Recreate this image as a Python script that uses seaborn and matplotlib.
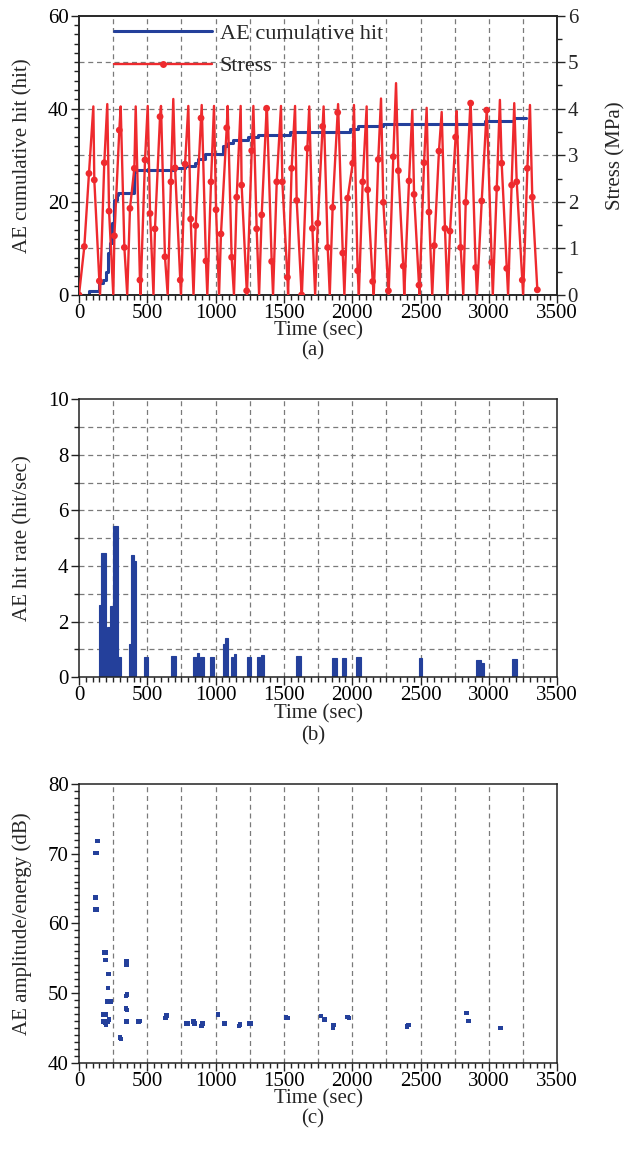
import numpy as np
import pandas as pd
import matplotlib
matplotlib.use("Agg")
import matplotlib.pyplot as plt
import seaborn as sns
from matplotlib.ticker import MultipleLocator, FixedLocator
from matplotlib.lines import Line2D

# ---------------- data ----------------
# Panel (a): stress (MPa) -- turning points of the loading cycles
peak_t = [105, 207, 305, 415, 503, 600, 690, 800, 898, 988, 1088, 1183, 1276, 1375, 1478, 1581,
          1685, 1790, 1896, 2012, 2105, 2210, 2320, 2439, 2544, 2654, 2764, 2864, 2984, 3080, 3185, 3300]
peak_v = [4.05, 4.10, 4.05, 4.05, 4.06, 4.06, 4.21, 4.06, 4.08, 4.06, 4.06, 4.06, 4.06, 4.03, 4.06, 4.06,
          4.05, 4.05, 4.10, 4.08, 4.05, 4.22, 4.55, 3.97, 4.02, 3.93, 3.95, 4.12, 4.00, 4.19, 4.12, 4.08]
trough_t = [154, 251, 353, 450, 545, 649, 746, 838, 939, 1025, 1134, 1229, 1318, 1420, 1530, 1631,
            1728, 1835, 1942, 2048, 2157, 2266, 2380, 2491, 2585, 2696, 2812, 2912, 3028, 3140, 3250]
trough_v = [0.0] * 31
# Panel (a): stress sample points shown with markers
mark_t = [0, 39, 73, 112, 149, 185, 220, 259, 295, 332, 373, 405, 446, 483, 520, 556, 593, 629, 673, 703,
          741, 776, 817, 854, 893, 929, 966, 1003, 1039, 1081, 1117, 1154, 1190, 1227, 1264, 1300, 1337,
          1373, 1410, 1447, 1488, 1525, 1556, 1593, 1629, 1671, 1708, 1747, 1783, 1820, 1856, 1893, 1930,
          1966, 2003, 2039, 2076, 2112, 2149, 2190, 2227, 2264, 2300, 2337, 2373, 2415, 2452, 2488, 2525,
          2561, 2600, 2634, 2678, 2715, 2756, 2793, 2830, 2866, 2903, 2947, 2983, 3020, 3057, 3093, 3130,
          3166, 3203, 3244, 3281, 3317, 3354]
mark_v = [0.0, 1.04, 2.61, 2.47, 0.30, 2.84, 1.80, 1.27, 3.54, 1.02, 1.86, 2.72, 0.32, 2.90, 1.75, 1.42,
          3.83, 0.82, 2.43, 2.73, 0.32, 2.81, 1.63, 1.49, 3.80, 0.73, 2.43, 1.83, 1.31, 3.59, 0.81, 2.10,
          2.36, 0.09, 3.10, 1.42, 1.72, 4.01, 0.72, 2.43, 2.43, 0.38, 2.72, 2.03, 0.0, 3.15, 1.43, 1.54,
          3.62, 1.02, 1.88, 3.92, 0.90, 2.08, 2.83, 0.52, 2.43, 2.26, 0.29, 2.91, 1.99, 0.09, 2.97, 2.67,
          0.62, 2.45, 2.16, 0.21, 2.84, 1.78, 1.06, 3.09, 1.43, 1.37, 3.39, 1.02, 1.99, 4.12, 0.59, 2.02,
          3.97, 0.70, 2.29, 2.83, 0.57, 2.36, 2.43, 0.32, 2.72, 2.10, 0.11]

# Panel (a): AE cumulative hit
hit_t = [0, 75, 150, 178, 195, 215, 227, 244, 259, 276, 288, 402, 417, 702, 776, 849, 873, 922,
         1056, 1093, 1129, 1239, 1312, 1544, 1983, 2044, 2227, 2971, 3186, 3270]
hit_v = [0.0, 0.8, 2.5, 3.2, 5.0, 9.0, 11.1, 15.4, 20.4, 21.5, 21.8, 26.5, 26.9, 27.2, 27.7, 28.4, 29.3, 30.3,
         31.9, 32.6, 33.2, 33.9, 34.4, 34.9, 35.7, 36.2, 36.8, 37.4, 38.1, 38.1]

# Panel (b): AE hit rate (hit/sec) over time intervals
rate_start = [146, 158, 195, 207, 227, 246, 283, 368, 381, 405, 478, 676, 837, 861, 885, 959, 1056, 1068,
              1112, 1134, 1227, 1305, 1332, 1588, 1849, 1927, 2025, 2486, 2903, 2940, 3171]
rate_end = [158, 195, 207, 227, 246, 283, 307, 381, 405, 415, 507, 710, 861, 881, 917, 988, 1068, 1093,
            1129, 1149, 1256, 1325, 1354, 1622, 1890, 1956, 2060, 2512, 2940, 2964, 3203]
rate_val = [2.6, 4.45, 1.28, 1.82, 2.56, 5.44, 0.74, 1.2, 4.4, 4.18, 0.72, 0.77, 0.74, 0.86, 0.74, 0.72,
            1.2, 1.42, 0.74, 0.82, 0.72, 0.72, 0.80, 0.77, 0.68, 0.68, 0.74, 0.68, 0.62, 0.52, 0.66]

# Panel (c): AE amplitude/energy (dB)
amp_t = [118, 130, 134, 120, 126, 120, 128, 183, 193, 193, 217, 212, 208, 222, 232, 180, 195, 178, 190,
         198, 208, 218, 300, 306, 349, 349, 344, 352, 344, 350, 344, 352, 435, 447, 632, 640, 782, 795,
         838, 845, 895, 905, 1015, 1061, 1068, 1172, 1180, 1245, 1256, 1515, 1525, 1772, 1796, 1858,
         1862, 1965, 1978, 2400, 2410, 2835, 2845, 2855, 3085]
amp_v = [70.1, 70.1, 71.8, 63.7, 63.7, 62.0, 62.0, 55.8, 55.8, 54.7, 52.7, 50.7, 48.8, 48.8, 48.8, 46.9,
         46.9, 45.9, 45.7, 45.5, 45.9, 46.2, 43.6, 43.4, 54.5, 54.0, 49.6, 49.8, 47.8, 47.6, 45.9, 45.9,
         45.9, 46.0, 46.4, 46.8, 45.6, 45.6, 45.9, 45.6, 45.3, 45.6, 46.9, 45.6, 45.6, 45.3, 45.5, 45.6,
         45.6, 46.5, 46.4, 46.7, 46.2, 45.0, 45.4, 46.6, 46.4, 45.2, 45.4, 47.1, 46.0, 46.0, 45.0]

x_ticks = [0, 500, 1000, 1500, 2000, 2500, 3000, 3500]

# ---------------- style ----------------
sns.set_style("ticks")
plt.rcParams['font.family'] = ['Liberation Serif', 'DejaVu Serif']
plt.rcParams['font.size'] = 15
plt.rcParams['axes.linewidth'] = 1.1
plt.rcParams['axes.edgecolor'] = '#222222'

FS = 15
BLUE = '#24409b'
RED = '#ee2a2e'
GRID = '#7a7a7a'
DASH = (0, (4, 3))

fig = plt.figure(figsize=(6.24, 11.58), dpi=100)


def style_x(ax):
    ax.set_xlim(0, 3500)
    ax.xaxis.set_major_locator(FixedLocator(x_ticks))
    ax.xaxis.set_minor_locator(MultipleLocator(50))
    ax.tick_params(axis='both', which='major', direction='out', length=5.5, width=1.0, pad=2,
                   labelsize=FS, colors='#222222', labelcolor='black')
    ax.tick_params(axis='x', which='major', pad=1)
    ax.tick_params(axis='both', which='minor', direction='out', length=3.5, width=1.0, colors='#222222')
    ax.set_xlabel('Time (sec)', fontsize=FS, labelpad=-1)
    for s in ax.spines.values():
        s.set_visible(True)


def vgrid(ax):
    for g in np.arange(250, 3500, 250):
        ax.axvline(g, color=GRID, lw=0.9, ls=DASH, zorder=0)


# ---------------- panel (a) ----------------
ax1 = fig.add_axes([0.1266, 0.7453, 0.7665, 0.2412])
ax2 = ax1.twinx()
vgrid(ax1)
for g in [10, 20, 30, 40, 50]:
    ax1.axhline(g, color=GRID, lw=0.9, ls=DASH, zorder=0)

sns.lineplot(x=hit_t, y=hit_v, ax=ax1, color=BLUE, lw=2.2, drawstyle='steps-post',
             estimator=None, zorder=2)

stress = pd.concat([
    pd.DataFrame({'t': peak_t, 's': peak_v}),
    pd.DataFrame({'t': trough_t, 's': trough_v}),
    pd.DataFrame({'t': mark_t, 's': mark_v}),
]).drop_duplicates('t').sort_values('t')
sns.lineplot(data=stress, x='t', y='s', ax=ax2, color=RED, lw=1.7, estimator=None, sort=True, zorder=3)
sns.scatterplot(x=mark_t, y=mark_v, ax=ax2, color=RED, s=24, edgecolor='none', zorder=4)

ax1.set_ylim(0, 60)
ax2.set_ylim(0, 6)
ax1.yaxis.set_major_locator(MultipleLocator(20))
ax1.yaxis.set_minor_locator(MultipleLocator(2))
ax2.yaxis.set_major_locator(MultipleLocator(1))
ax2.yaxis.set_minor_locator(MultipleLocator(0.5))
style_x(ax1)
ax2.tick_params(axis='y', which='major', direction='out', length=5.5, width=1.0, pad=2, labelsize=FS)
ax2.tick_params(axis='y', which='minor', direction='out', length=3.5, width=1.0)
ax1.set_ylabel('AE cumulative hit (hit)', fontsize=FS, labelpad=11)
ax2.set_ylabel('Stress (MPa)', fontsize=FS, labelpad=20)
ax2.set_xlabel('')

handles = [Line2D([], [], color=BLUE, lw=2.2),
           Line2D([], [], color=RED, lw=1.7, marker='o', ms=5, mec='none')]
ax2.legend(handles, ['AE cumulative hit', 'Stress'], loc='upper left', bbox_to_anchor=(0.055, 1.005),
           frameon=False, fontsize=16, handlelength=4.4, handletextpad=0.35, labelspacing=0.55,
           borderaxespad=0.0)
fig.text(0.5016, 1 - 351 / 1158, '(a)', ha='center', va='center', fontsize=FS)

# ---------------- panel (b) ----------------
ax3 = fig.add_axes([0.1266, 0.4151, 0.7665, 0.2403])
vgrid(ax3)
for g in range(1, 10):
    ax3.axhline(g, color=GRID, lw=0.9, ls=DASH, zorder=0)
widths = [e - s for s, e in zip(rate_start, rate_end)]
ax3.bar(rate_start, rate_val, width=widths, align='edge', color=BLUE, edgecolor=BLUE, lw=0.8, zorder=2)
ax3.set_ylim(0, 10)
ax3.yaxis.set_major_locator(MultipleLocator(2))
ax3.yaxis.set_minor_locator(MultipleLocator(1))
style_x(ax3)
ax3.set_ylabel('AE hit rate (hit/sec)', fontsize=FS, labelpad=11)
fig.text(0.5016, 1 - 736 / 1158, '(b)', ha='center', va='center', fontsize=FS)

# ---------------- panel (c) ----------------
ax4 = fig.add_axes([0.1266, 0.0823, 0.7665, 0.2407])
vgrid(ax4)
sns.scatterplot(x=amp_t, y=amp_v, ax=ax4, color=BLUE, marker='s', s=10, edgecolor='none', zorder=3)
ax4.set_ylim(40, 80)
ax4.yaxis.set_major_locator(MultipleLocator(10))
ax4.yaxis.set_minor_locator(MultipleLocator(1))
style_x(ax4)
ax4.set_ylabel('AE amplitude/energy (dB)', fontsize=FS, labelpad=11)
fig.text(0.5016, 1 - 1119 / 1158, '(c)', ha='center', va='center', fontsize=FS)

fig.savefig('out.png', dpi=100)
